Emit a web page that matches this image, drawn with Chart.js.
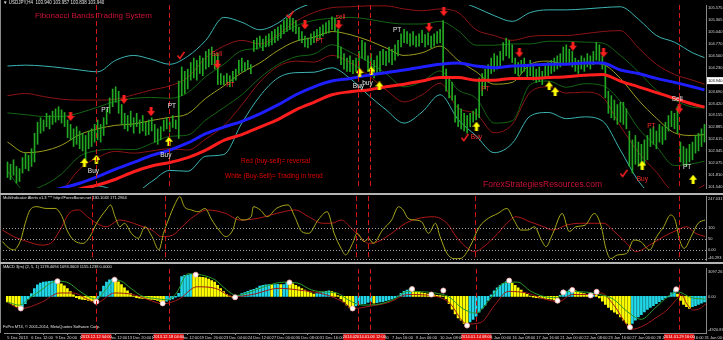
<!DOCTYPE html>
<html><head><meta charset="utf-8">
<script src="https://cdn.jsdelivr.net/npm/chart.js@4.4.1/dist/chart.umd.min.js"></script>
<style>
html,body{margin:0;padding:0;background:#000;}
#wrap{position:relative;width:723px;height:340px;background:#000;overflow:hidden;font-family:"Liberation Sans",Arial,sans-serif;}
canvas{position:absolute;left:0;}
.t{position:absolute;white-space:nowrap;line-height:1;}
.sep{position:absolute;left:0;width:723px;height:2px;background:#b4b4b4;}
.lb{position:absolute;left:0;width:1px;background:#8a8a8a;}
</style></head>
<body>
<div id="wrap">
<canvas id="cMain" width="723" height="193" style="top:0px"></canvas>
<canvas id="cMulti" width="723" height="67" style="top:195px"></canvas>
<canvas id="cMacd" width="723" height="76" style="top:264px"></canvas>
<div class="sep" style="top:193px"></div>
<div class="sep" style="top:262px"></div>
<div class="lb" style="top:0;height:193px"></div>
<div class="lb" style="top:195px;height:67px"></div>
<div class="lb" style="top:264px;height:69px"></div>
<div class="t" style="left:3px;top:1px;font-size:4.5px;color:#e0e0e0">▼ USDJPY,H4&nbsp; 103.940 103.957 103.838 103.940</div>
<div class="t" style="left:35px;top:12px;font-size:8px;color:#cc1238">Fibonacci Bands Trading System</div>
<div class="t" style="left:241px;top:158px;font-size:6.5px;color:#e00000">Red (buy-sell)= reversal</div>
<div class="t" style="left:225px;top:173px;font-size:6.5px;color:#e00000">White (Buy-Sell)= Trading in trend</div>
<div class="t" style="left:483px;top:180px;font-size:8.5px;color:#cc1238">ForexStrategiesResources.com</div>
<div class="t" style="left:3px;top:196px;font-size:4px;color:#e0e0e0">MultiIndicator Alerts v1.3 *** http://ForexBaron.net 130.1043 171.2964</div>
<div class="t" style="left:3px;top:265px;font-size:4px;color:#e0e0e0">MACD 3(m) (2, 5, 1) 1178.4094 1093.3603 1155.1238 0.0000</div>
<div class="t" style="left:3px;top:325px;font-size:4px;color:#e0e0e0">FxPro MT4, © 2001-2014, MetaQuotes Software Corp.</div>
</div>
<script>
// ---------- DATA ----------
const priceTicks = [101.540,101.810,102.075,102.345,102.615,102.885,103.155,103.420,103.690,104.230,104.500,104.770,105.040,105.305,105.575];
const lastPrice = 103.940;
const barHigh = [102.10,102.05,102.15,102.00,101.95,102.20,102.30,102.25,102.40,102.75,103.00,103.10,103.05,103.20,103.15,103.25,103.30,103.35,103.28,103.22,
103.05,102.95,102.85,102.90,102.80,102.75,102.70,102.80,102.85,102.95,103.05,102.95,103.10,103.30,103.55,103.75,103.80,103.70,103.40,103.20,
103.15,103.25,103.10,103.20,103.05,103.15,103.00,103.05,103.10,102.95,102.85,102.90,103.05,103.10,103.00,103.15,103.05,103.93,104.25,104.15,
104.20,104.35,104.45,104.40,104.50,104.45,104.60,104.65,104.70,104.55,104.55,104.10,104.05,104.10,104.05,104.15,104.20,104.40,104.45,104.35,
104.40,104.30,104.85,104.90,104.95,104.88,104.95,105.00,105.05,105.10,105.15,105.20,105.30,105.35,105.40,105.35,105.30,105.15,105.05,104.95,
104.90,105.00,105.05,105.10,105.15,105.20,105.25,105.30,105.38,105.35,105.10,104.70,104.55,104.45,104.50,104.40,104.45,104.60,104.85,104.80,
104.50,104.55,104.40,104.50,104.60,104.65,104.60,104.70,104.65,104.75,104.85,105.00,105.10,105.05,105.00,105.05,104.95,105.00,105.08,104.98,
105.02,104.95,105.00,105.05,105.10,105.30,104.20,104.00,103.90,103.60,103.40,103.30,103.20,103.15,103.20,103.25,103.30,104.00,104.10,104.20,
104.30,104.45,104.55,104.50,104.60,104.80,104.90,104.85,104.75,104.45,104.35,104.40,104.45,104.30,104.40,104.30,104.20,104.25,104.15,104.30,
104.35,104.40,104.45,104.50,104.55,104.70,104.75,104.65,104.60,104.45,104.40,104.50,104.45,104.55,104.50,104.60,104.80,104.75,104.50,104.30,
103.70,103.60,103.50,103.40,103.45,103.45,103.30,102.80,102.60,102.70,102.55,102.50,102.60,102.70,102.85,102.90,102.80,102.95,102.90,103.00,
103.15,103.25,103.20,103.35,102.55,102.45,102.40,102.50,102.55,102.70,102.75,102.85,102.95];
const barLow = [101.75,101.70,101.80,101.62,101.66,101.85,101.95,101.90,102.00,102.10,102.50,102.75,102.80,102.90,102.85,102.95,103.00,103.05,102.98,102.90,
102.65,102.60,102.45,102.50,102.40,102.35,102.15,102.40,102.45,102.55,102.60,102.55,102.70,102.95,103.20,103.35,103.45,103.20,102.95,102.85,
102.80,102.90,102.75,102.90,102.75,102.80,102.70,102.72,102.80,102.55,102.50,102.60,102.80,102.85,102.78,102.88,102.85,102.63,103.60,103.65,
103.75,103.95,104.00,103.95,104.10,104.05,104.20,104.25,104.30,104.20,103.85,103.85,103.85,103.90,103.80,103.90,103.95,104.10,104.15,104.15,
104.20,104.10,104.60,104.65,104.70,104.62,104.70,104.72,104.75,104.80,104.85,104.90,105.00,105.05,105.10,105.05,105.00,104.85,104.80,104.70,
104.68,104.75,104.80,104.85,104.88,104.95,105.00,105.02,105.10,105.05,104.45,104.30,104.20,104.15,104.14,104.10,104.15,104.20,104.45,104.40,
104.15,104.05,104.00,104.10,104.15,104.30,104.28,104.35,104.30,104.40,104.50,104.70,104.80,104.78,104.72,104.75,104.70,104.72,104.80,104.70,
104.75,104.68,104.72,104.78,104.80,104.05,103.70,103.55,103.50,103.00,102.90,102.85,102.80,102.75,102.90,103.00,103.05,103.10,103.60,103.75,
103.90,104.10,104.15,104.20,104.25,104.40,104.50,104.45,104.35,104.10,104.05,104.10,104.15,104.00,104.05,103.95,103.90,103.92,103.85,104.00,
104.05,104.10,104.15,104.20,104.25,104.30,104.35,104.30,104.25,104.15,104.10,104.20,104.15,104.25,104.20,104.30,104.40,104.38,104.20,103.55,
103.20,103.10,103.05,102.95,103.00,102.95,102.85,102.00,101.85,102.05,102.00,101.95,102.05,102.15,102.45,102.50,102.40,102.55,102.50,102.60,
102.80,102.90,102.85,102.75,102.10,102.05,102.00,102.10,102.15,102.30,102.35,102.45,102.55];
const bandIdx = [0,6,12,18,24,30,36,42,48,54,60,66,72,78,84,90,96,102,108,114,120,126,132,138,144,150,156,162,168,174,180,186,192,198,204,210,216,222,228,232];
const cyanUpper = [104.27,104.29,104.27,104.23,104.18,104.14,104.40,104.51,104.42,104.31,104.49,104.85,105.37,105.26,105.09,105.24,105.54,105.71,105.87,105.97,106.08,106.08,106.04,105.91,105.82,105.74,105.59,105.41,105.28,105.48,105.54,105.54,105.56,105.59,105.61,105.33,104.96,104.81,104.57,104.46];
const redUpper = [103.60,103.65,103.58,103.52,103.50,103.50,103.52,103.62,103.73,103.82,104.01,104.46,104.72,104.85,104.77,104.98,105.28,105.48,105.59,105.61,105.63,105.63,105.56,105.52,105.56,105.48,105.09,104.96,104.85,104.94,104.96,104.96,105.00,105.05,105.07,104.68,104.31,104.08,103.95,103.86];
const greenUpper = [103.21,103.17,103.13,103.13,103.21,103.34,103.47,103.54,103.56,103.54,103.67,104.03,104.31,104.62,104.68,104.94,105.18,105.30,105.35,105.37,105.33,105.26,105.22,105.22,105.28,105.07,104.74,104.74,104.77,104.77,104.83,104.83,104.81,104.79,104.51,104.14,103.73,103.50,103.34,103.32];
const midBand = [102.55,102.31,102.35,102.48,102.72,102.85,102.93,102.96,103.04,103.11,103.19,103.54,103.82,104.12,104.34,104.62,104.83,104.92,105.05,104.98,104.85,104.68,104.51,104.57,104.72,104.40,104.14,103.86,103.90,104.31,104.38,104.31,104.34,104.31,103.99,103.50,103.09,102.76,102.70,102.72];
const greenLower = [101.89,101.45,101.57,101.83,102.23,102.36,102.39,102.38,102.52,102.68,102.71,103.05,103.33,103.62,104.00,104.30,104.48,104.54,104.75,104.59,104.37,104.10,103.80,103.92,104.16,103.73,103.54,102.98,103.03,103.85,103.93,103.79,103.87,103.83,103.47,102.86,102.45,102.02,102.06,102.12];
const redLower = [101.50,100.97,101.12,101.44,101.94,102.20,102.34,102.30,102.35,102.40,102.37,102.62,102.92,103.39,103.91,104.26,104.38,104.36,104.51,104.35,104.07,103.73,103.46,103.62,103.88,103.32,103.19,102.76,102.95,103.68,103.80,103.66,103.68,103.57,102.91,102.32,101.87,101.44,101.45,101.58];
const cyanLower = [100.83,100.33,100.43,100.73,101.26,101.56,101.46,101.41,101.66,101.91,101.89,102.23,102.27,102.98,103.59,104.00,104.12,104.13,104.23,103.99,103.62,103.28,102.98,103.23,103.62,103.06,102.69,102.31,102.52,103.14,103.22,103.08,103.12,103.03,102.37,101.67,101.22,100.71,100.83,100.98];
const blueMA = [101.34,101.38,101.43,101.51,101.62,101.77,101.94,102.09,102.25,102.37,102.53,102.74,102.89,103.02,103.19,103.39,103.62,103.80,103.93,103.99,104.06,104.12,104.18,104.25,104.31,104.34,104.27,104.23,104.27,104.29,104.31,104.31,104.34,104.34,104.18,104.10,103.99,103.90,103.80,103.73];
const redMA = [101.12,101.21,101.30,101.36,101.49,101.58,101.71,101.88,102.01,102.09,102.20,102.37,102.59,102.72,102.89,103.06,103.28,103.45,103.62,103.69,103.73,103.80,103.86,103.93,104.01,104.01,103.95,103.95,103.99,103.99,104.01,104.03,104.06,104.08,103.93,103.80,103.67,103.54,103.41,103.34];

const sellArrows = [[21,103.13],[38.8,103.52],[47.8,103.24],[69.9,104.31],[99,105.20],[110.2,105.20],[140.3,105.15],[145.2,105.50],[170.4,104.57],[188.2,104.72],[198.4,104.57],[223.6,103.30]];
const buyArrows = [[25.6,102.09],[29.6,102.16],[53.7,102.57],[117.2,104.12],[121.1,104.16],[123.8,103.82],[156.1,102.91],[180.3,103.82],[182.3,103.69],[211.3,102.03],[228.2,101.71]];
const checkMarks = [[57.7,104.51],[94,105.43],[152.2,102.65],[205.1,101.84]];
const signalNotes = [[32.6,103.28,'PT','w'],[54.7,103.37,'PT','w'],[28.6,101.90,'Buy','w'],[52.7,102.25,'Buy','w'],[69.6,104.53,'Sell','r'],[74.2,103.84,'PT','r'],[110.9,105.37,'sell','r'],[103.9,104.83,'PT','r'],[129.7,105.09,'PT','w'],[116.8,103.82,'Buy','w'],[119.8,103.88,'buy','w'],[156.1,102.65,'Buy','r'],[159.1,103.75,'PT','r'],[214.3,102.91,'PT','r'],[222.9,103.52,'Sell','w'],[226.2,101.99,'PT','w'],[211.3,101.71,'Buy','r']];

const vLinesMain = [29.6,53.7,116.8,120.8,223.6];
const vLinesSub = [29.6,53.7,116.8,120.8,156.1,223.6];
const vLineLabels = ['2013.12.12 04:00','2013.12.18 04:00','2014.01.03 20:00','2014.01.06 12:00','2014.01.14 08:00','2014.01.29 16:00'];

const multiIdx = [0,1.5,3.7,6,7.5,9.1,11.4,14.4,17.4,19.7,21.3,23.5,26.6,28.9,31.1,34.2,35.7,37.2,38.8,40.3,42.6,44.9,47.1,49.4,51.7,53.2,54.8,57.1,58.6,60.1,62.4,64.7,66.9,69.2,71.5,73.8,76.1,77.6,79.1,82.2,82.9,85.2,87.5,90.5,94.4,96.6,98.9,101.2,104.3,107.3,109.6,111.9,113.4,115.7,117.2,119.5,121,122.5,125.6,128.6,130.9,132.4,134,136.2,138.5,140.8,143.1,144.6,146.9,149.2,151.5,154.5,157.6,160.6,163.7,166.7,169,171.3,173.6,175.8,178.1,179.6,181.9,185,187.3,189.5,192.6,195.6,197.9,199.4,201,203.3,206.3,208.6,210.9,213.9,216.2,218.5,220.8,222.3,223.8,225.3,227.6,229.9,232.2];
const multiFast = [38,15,0,45,122,183,198,190,190,152,91,45,30,61,122,183,206,152,106,122,76,53,106,61,0,76,137,213,244,198,183,175,190,137,91,61,91,152,137,152,198,183,152,190,206,152,84,76,137,175,76,7,-23,30,76,38,53,30,91,137,198,183,145,137,129,76,122,61,-16,-40,-39,15,106,145,167,190,137,91,91,106,45,15,76,167,84,106,114,167,106,7,-40,-23,-16,45,38,0,61,106,160,137,45,7,61,122,137];
const multiSlowIdx = [0,3.7,8.3,12.9,15.9,19,22,25.1,28.1,31.1,34.2,38.8,43.3,46.4,49.4,52.5,56.3,59.3,63.1,67.7,73.8,78.4,84.5,90.5,96.6,101.2,105.8,108.8,111.9,114.9,118,121,124.1,128.6,133.2,137.8,142.3,146.9,149.9,153,156,159.1,163.7,166.7,169.7,174.3,178.9,181.9,186.5,191,195.6,198.7,201.7,206.3,209.3,213.9,218.5,223,226.1,229.1,232.2];
const multiSlow = [91,61,38,22,30,91,167,183,152,122,106,137,122,106,91,61,68,106,152,183,167,137,145,167,183,152,122,122,137,106,61,30,38,76,122,145,152,122,61,15,-8,15,76,122,152,129,106,91,114,122,122,122,91,30,-8,22,61,91,106,76,61];
const multiLevels = [100,50,0,-44];

const macdHist = [-700,-900,-1100,-1300,-1500,-1350,-900,-300,350,1000,
1450,1700,1800,1850,1900,1950,1980,1850,1600,1350,
1000,600,200,-150,-300,-380,-420,-500,-560,-600,
-300,600,1300,1800,2100,2200,2050,1850,1500,1100,
700,350,50,-150,-220,-260,-280,-330,-380,-420,
-500,-650,-800,-600,-450,-300,-100,400,2500,2650,
2700,2800,2750,2550,2450,2400,2350,2200,2000,1800,
1400,1000,600,250,50,-100,-150,100,350,500,
650,800,900,1050,1300,1400,1450,1500,1480,1500,
1520,1490,1510,1750,1700,1600,1400,1200,1000,800,
600,450,300,350,450,550,650,700,600,450,
100,-300,-700,-1100,-1400,-1500,-1200,-1050,-950,-900,
-750,-700,-850,-800,-700,-650,-550,-450,-300,-150,
50,400,650,800,950,800,650,550,450,400,
300,250,200,150,100,50,-300,-900,-1600,-2200,
-2700,-3000,-3400,-3600,-3200,-2900,-2500,-2000,-1500,-1100,
-500,200,700,1100,1400,1650,1850,1950,1700,1400,
1100,800,500,250,50,-100,-150,-180,-220,-260,
-300,-350,-450,-550,150,450,650,800,850,700,
550,450,350,250,150,400,300,-200,-600,-1000,
-1400,-1700,-2000,-2200,-2600,-3000,-3400,-3850,-3400,-3000,
-2600,-2300,-1950,-1650,-1400,-1150,-900,-650,-400,-200,
-50,450,800,300,-500,-1000,-1300,-1500,-1300,-1150,
-1000,-850,-700];
const macdSigIdx = [0,4,8.3,11.4,14.4,17.4,20.5,23.5,26.6,29.6,32.7,35.7,38,41.1,44.9,49.4,53.2,56.3,60.1,64.7,69.2,73,76.1,79.9,86,92.1,96.6,101.2,105.8,109.6,113.4,118,124.1,128.6,133.2,137.8,142.3,146.9,151.5,156,160.6,165.2,169.7,174.3,178.9,182.7,186.5,191.1,197.2,201.7,206.3,210.9,215.4,220,223,227.6,232.2];
const macdSignal = [-700,-1100,44,826,1687,1922,1687,826,44,-348,826,2079,1922,1022,44,-269,-426,435,2861,2705,2079,826,122,435,1296,1805,1687,826,552,435,-426,-1091,-935,-348,631,592,435,-39,-1522,-2109,-348,1687,1805,631,-39,-152,631,592,239,-348,-1913,-2891,-1522,44,592,-152,-348];
const macdSlowIdx = [0,4.5,11.4,17.4,22,26.6,29.6,35.7,41.8,47.9,51.7,57.1,63.1,69.2,75.3,81.4,90.5,96.6,105.8,111.9,114.9,121,127.1,133.2,140.8,146.9,153,157.6,162.1,166.7,172.8,178.9,183.5,188,195.6,197.5,201.9,206.3,207.9,211.8,215.1,219.5,222.8,224.4,226.1,228.3,230.5,232.5];
const macdSlow = [-739,-1522,-739,435,435,-348,-817,435,239,-543,-935,-348,1218,1022,-39,239,1022,826,239,-739,-1522,-1209,-739,239,122,-739,-3478,-3283,-1130,631,435,-348,-661,239,239,434,-1127,-3674,-4143,-3674,-2887,-1714,-352,235,-939,-1714,-1526,-939];
const macdDotIdx = [4.5,16.7,29.6,35.7,51.7,62.7,75.8,93.9,114.9,134.7,141.1,145.1,153,167,183.1,185,188,194.1,196.1,207.2,222.6];
const macdDot = [-1522,1922,-661,2118,-876,2744,-113,1765,-1522,944,239,748,-3674,2000,-543,513,826,122,592,-3873,900];

const dateIdx = [0,8,16,24,32,40,48,56,64,72,80,88,96,104,112,120,128,136,144,152,160,168,176,184,192,200,208,216,224,232];
const dateLabels = ['5 Dec 2013','6 Dec 12:00','9 Dec 20:00','11 Dec 04:00','12 Dec 12:00','13 Dec 20:00','17 Dec 04:00','18 Dec 12:00','19 Dec 20:00','23 Dec 04:00','24 Dec 12:00','27 Dec 00:00','30 Dec 08:00','31 Dec 16:00','3 Jan 00:00','6 Jan 08:00','7 Jan 16:00','9 Jan 00:00','10 Jan 08:00','13 Jan 16:00','15 Jan 00:00','16 Jan 08:00','17 Jan 16:00','21 Jan 00:00','22 Jan 08:00','23 Jan 16:00','27 Jan 00:00','28 Jan 08:00','29 Jan 16:00','31 Jan 00:00'];

// ---------- HELPERS ----------
const FONT = '"Liberation Sans", Arial, sans-serif';
const pts = (ix, v) => ix.map((x, k) => ({x, y: v[k]}));
const pairPts = arr => arr.map(p => ({x: p[0], y: p[1]}));
function glyph(kind){
  const c = document.createElement('canvas'); c.width = 8; c.height = 9;
  const g = c.getContext('2d');
  if (kind === 'down') { g.fillStyle = '#ff2020'; g.fillRect(2.5,0,3,4.5); g.beginPath(); g.moveTo(0,4); g.lineTo(8,4); g.lineTo(4,9); g.closePath(); g.fill(); }
  else if (kind === 'up') { g.fillStyle = '#ffff00'; g.beginPath(); g.moveTo(4,0); g.lineTo(8,5); g.lineTo(0,5); g.closePath(); g.fill(); g.fillRect(2.5,4.5,3,4.5); }
  else { g.strokeStyle = '#ff2020'; g.lineWidth = 1.5; g.beginPath(); g.moveTo(0.5,4.5); g.lineTo(3,7.5); g.lineTo(7.5,1); g.stroke(); }
  return c;
}
function xAxis(show){
  const o = {type:'linear', min:-0.83, max:232.5, offset:false, display:show, grid:{display:false}};
  if (show) {
    o.grid = {display:true, drawOnChartArea:false, drawTicks:true, tickLength:2, color:'#8a8a8a'};
    o.border = {display:true, color:'#8a8a8a'};
    o.afterBuildTicks = s => { s.ticks = dateIdx.map(v => ({value:v})); };
    o.afterFit = s => { s.height = 7; s.paddingLeft = 0; s.paddingRight = 0; };
    o.ticks = {autoSkip:false, maxRotation:0, minRotation:0, align:'start', padding:0, color:'#d8d8d8',
      font:{size:4, family:FONT}, callback: v => dateLabels[dateIdx.indexOf(v)] || ''};
  }
  return o;
}
function yAxis(min, max, ticks, fmt){
  return {type:'linear', position:'right', min, max,
    afterBuildTicks: s => { s.ticks = ticks.map(v => ({value:v})); },
    afterFit: s => { s.width = 17; s.paddingTop = 0; s.paddingBottom = 0; },
    grid:{display:false, drawTicks:false}, border:{display:true, color:'#8a8a8a', width:1},
    ticks:{autoSkip:false, color:'#d8d8d8', padding:2, font:{size:4, family:FONT}, callback: fmt}};
}
function overlay(cfg){
  return {
    id:'ov',
    afterDatasetsDraw(chart){
      const {ctx, chartArea:a, scales:{x, y}} = chart;
      ctx.save();
      ctx.beginPath(); ctx.rect(a.left, a.top, a.right - a.left, a.bottom - a.top); ctx.clip();
      if (cfg.levels) {
        ctx.strokeStyle = '#a0a0a0'; ctx.lineWidth = 1; ctx.setLineDash([1,2]);
        cfg.levels.forEach(v => { const py = Math.round(y.getPixelForValue(v)) + 0.5; ctx.beginPath(); ctx.moveTo(a.left, py); ctx.lineTo(a.right, py); ctx.stroke(); });
      }
      if (cfg.vlines) {
        ctx.strokeStyle = '#d01818'; ctx.lineWidth = 1; ctx.setLineDash([5,3]);
        cfg.vlines.forEach(v => { const px = Math.round(x.getPixelForValue(v)) + 0.5; ctx.beginPath(); ctx.moveTo(px, a.top); ctx.lineTo(px, a.bottom); ctx.stroke(); });
      }
      ctx.setLineDash([]);
      if (cfg.notes) {
        ctx.font = '6.5px ' + FONT; ctx.textAlign = 'center'; ctx.textBaseline = 'middle';
        cfg.notes.forEach(n => { ctx.fillStyle = n[3] === 'w' ? '#e6e6e6' : '#ff2a2a'; ctx.fillText(n[2], x.getPixelForValue(n[0]), y.getPixelForValue(n[1])); });
      }
      ctx.restore();
    },
    afterDraw(chart){
      const {ctx, chartArea:a, scales:{x, y}} = chart;
      ctx.save();
      ctx.font = '4px ' + FONT; ctx.textBaseline = 'middle'; ctx.textAlign = 'left';
      if (cfg.priceBox) {
        const py = y.getPixelForValue(cfg.priceBox);
        ctx.fillStyle = '#ffffff'; ctx.fillRect(a.right + 1, py - 3.5, 16, 7);
        ctx.fillStyle = '#000000'; ctx.fillText(cfg.priceBox.toFixed(3), a.right + 2, py);
      }
      if (cfg.edge) {
        ctx.fillStyle = '#d8d8d8';
        ctx.fillText(cfg.edge[0], a.right + 2, a.top + cfg.edge[2]);
        ctx.fillText(cfg.edge[1], a.right + 2, a.bottom - cfg.edge[3]);
      }
      if (cfg.dateBoxes) {
        ctx.textAlign = 'center';
        cfg.dateBoxes.forEach((v, k) => {
          const px = x.getPixelForValue(v);
          ctx.fillStyle = '#e01010'; ctx.fillRect(px - 15, a.bottom + 1, 30, 6);
          ctx.fillStyle = '#ffffff'; ctx.fillText(vLineLabels[k], px, a.bottom + 4);
        });
      }
      ctx.restore();
    }
  };
}
const common = {animation:false, responsive:false, events:[], plugins:{legend:{display:false}, tooltip:{enabled:false}}};
const lineDs = (data, color, w, order) => ({type:'line', data, borderColor:color, borderWidth:w, pointRadius:0, fill:false, cubicInterpolationMode:'monotone', order});

// ---------- MAIN ----------
new Chart(document.getElementById('cMain'), {
  type:'line',
  data:{datasets:[
    {type:'scatter', data:pairPts(sellArrows), pointStyle:glyph('down'), order:0},
    {type:'scatter', data:pairPts(buyArrows), pointStyle:glyph('up'), order:0},
    {type:'scatter', data:pairPts(checkMarks), pointStyle:glyph('check'), order:0},
    lineDs(pts(bandIdx, blueMA), '#1e1eff', 3, 1),
    lineDs(pts(bandIdx, redMA), '#ff1e1e', 3, 1),
    {type:'bar', data:barHigh.map((h, i) => ({x:i, y:[barLow[i], h]})), backgroundColor:'#22a822', barThickness:1, grouped:false, order:2},
    lineDs(pts(bandIdx, cyanUpper), '#3cb4b4', 1, 3),
    lineDs(pts(bandIdx, cyanLower), '#3cb4b4', 1, 3),
    lineDs(pts(bandIdx, redUpper), '#8c1414', 1, 3),
    lineDs(pts(bandIdx, redLower), '#8c1414', 1, 3),
    lineDs(pts(bandIdx, greenUpper), '#146414', 1, 3),
    lineDs(pts(bandIdx, greenLower), '#146414', 1, 3),
    lineDs(pts(bandIdx, midBand), '#9c9c1e', 1, 3)
  ]},
  options:Object.assign({}, common, {layout:{padding:0},
    scales:{x:xAxis(false), y:yAxis(101.512, 105.650, priceTicks, v => v.toFixed(3))}}),
  plugins:[overlay({vlines:vLinesMain, notes:signalNotes, priceBox:lastPrice})]
});

// ---------- MULTI INDICATOR ----------
new Chart(document.getElementById('cMulti'), {
  type:'line',
  data:{datasets:[
    lineDs(pts(multiIdx, multiFast), '#a8a81a', 1, 1),
    lineDs(pts(multiSlowIdx, multiSlow), '#b01818', 1, 2)
  ]},
  options:Object.assign({}, common, {layout:{padding:{top:1, bottom:2, left:0, right:0}},
    scales:{x:xAxis(false), y:yAxis(-46.293, 247.0317, [100,50,0], v => v === 0 ? '0.00' : String(v))}}),
  plugins:[overlay({vlines:vLinesSub, levels:multiLevels, edge:['247.0317','-46.293',3,2]})]
});

// ---------- MACD ----------
const histColors = macdHist.map((v, i) => (i > 0 && v > macdHist[i - 1]) ? '#22d8e8' : '#ffff00');
new Chart(document.getElementById('cMacd'), {
  type:'line',
  data:{datasets:[
    {type:'scatter', data:pts(macdDotIdx, macdDot), pointRadius:2.5, backgroundColor:'#ffffff', borderColor:'#ffb0b0', borderWidth:0.8, order:0},
    lineDs(pts(macdSigIdx, macdSignal), '#2a9a2a', 1, 1),
    lineDs(pts(macdSlowIdx, macdSlow), '#a01a1a', 1, 1),
    {type:'bar', data:macdHist.map((v, i) => ({x:i, y:v})), backgroundColor:histColors, barThickness:2, grouped:false, order:2}
  ]},
  options:Object.assign({}, common, {layout:{padding:0},
    scales:{x:xAxis(true), y:yAxis(-4613, 3486, [0], () => '0.00')}}),
  plugins:[overlay({vlines:vLinesSub, edge:['3097.2677','-4920.870',3,3], dateBoxes:vLinesSub})]
});
</script>
</body></html>
